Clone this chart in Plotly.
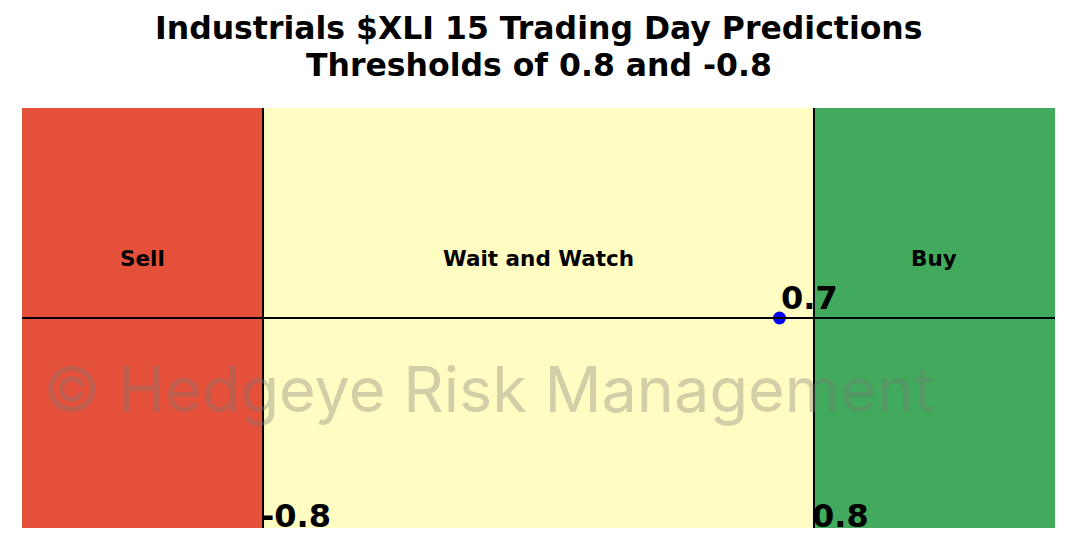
import plotly.graph_objects as go

title_lines = ["Industrials $XLI 15 Trading Day Predictions", "Thresholds of 0.8 and -0.8"]
x_range = [-1.5, 1.5]
y_range = [-1, 1]
thresholds = [-0.8, 0.8]
zone_labels = ["Sell", "Wait and Watch", "Buy"]
zone_colors = ["#E5503A", "#FFFDC1", "#41AA5C"]
prediction = 0.7
watermark = "© Hedgeye Risk Management"

edges = [x_range[0]] + thresholds + [x_range[1]]

fig = go.Figure()
shapes = []
for i in range(3):
    shapes.append(dict(type="rect", xref="x", yref="y", x0=edges[i], x1=edges[i + 1],
                       y0=y_range[0], y1=y_range[1], fillcolor=zone_colors[i],
                       line=dict(width=0), layer="below"))
for t in thresholds:
    shapes.append(dict(type="line", xref="x", yref="y", x0=t, x1=t, y0=y_range[0], y1=y_range[1],
                       line=dict(color="black", width=2)))
shapes.append(dict(type="line", xref="x", yref="y", x0=x_range[0], x1=x_range[1], y0=0, y1=0,
                   line=dict(color="black", width=2)))

fig.add_trace(go.Scatter(x=[prediction], y=[0], mode="markers",
                         marker=dict(color="#0000FF", size=13), showlegend=False, hoverinfo="skip"))

annotations = []
for i in range(3):
    annotations.append(dict(x=(edges[i] + edges[i + 1]) / 2, y=0.285, xref="x", yref="y",
                            text="<b>%s</b>" % zone_labels[i], showarrow=False,
                            font=dict(family="DejaVu Sans", size=21.5, color="black")))
annotations.append(dict(x=prediction, y=0.03, xref="x", yref="y", text="<b>%.1f</b>" % prediction,
                        xanchor="left", yanchor="bottom", showarrow=False, xshift=-1, yshift=-7,
                        font=dict(family="DejaVu Sans", size=32, color="black")))
for t in thresholds:
    annotations.append(dict(x=t, y=y_range[0], xref="x", yref="y", text="<b>%.1f</b>" % t,
                            xanchor="left", yanchor="bottom", showarrow=False, xshift=-4, yshift=-9,
                            font=dict(family="DejaVu Sans", size=32, color="black")))
annotations.append(dict(x=0.5, y=0.332, xref="paper", yref="paper", text=watermark,
                        xanchor="center", yanchor="middle", showarrow=False, xshift=-50,
                        font=dict(family="Inter", size=63, color="rgba(120,120,120,0.35)")))
for line, yp in zip(title_lines, [1.190, 1.102]):
    annotations.append(dict(x=0.5, y=yp, xref="paper", yref="paper", text="<b>%s</b>" % line,
                            xanchor="center", yanchor="middle", showarrow=False,
                            font=dict(family="DejaVu Sans", size=31.5, color="black")))

fig.update_layout(
    width=1067, height=532,
    margin=dict(l=14, r=20, t=100, b=12),
    paper_bgcolor="white", plot_bgcolor="white",
    xaxis=dict(range=x_range, visible=False, fixedrange=True),
    yaxis=dict(range=y_range, visible=False, fixedrange=True),
    shapes=shapes, annotations=annotations,
)
fig.write_html("out.html")
